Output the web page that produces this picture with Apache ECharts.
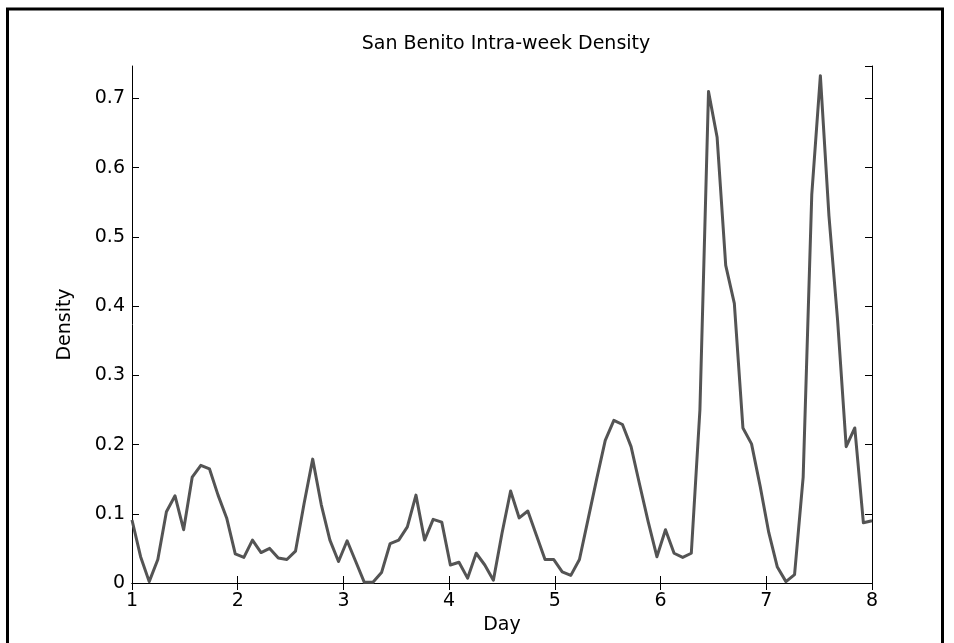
<!DOCTYPE html>
<html>
<head>
<meta charset="utf-8">
<script src="https://cdn.jsdelivr.net/npm/echarts@6/dist/echarts.min.js"></script>
<style>
  html, body { margin: 0; padding: 0; background: #fff; }
  #chart { width: 954px; height: 643px; }
</style>
</head>
<body>
<div id="chart"></div>
<script>
// ---- data ----
const titleText = 'San Benito Intra-week Density';
const xName = 'Day';
const yName = 'Density';
const dayStart = 1;
const dayEnd = 8;
const xTicks = [1, 2, 3, 4, 5, 6, 7, 8];
const yTicks = [0, 0.1, 0.2, 0.3, 0.4, 0.5, 0.6, 0.7];
const yMax = 0.747;
const density = [
  0.091, 0.038, 0.002, 0.034, 0.103, 0.126, 0.077, 0.153, 0.170, 0.165,
  0.127, 0.094, 0.042, 0.037, 0.062, 0.044, 0.050, 0.036, 0.034, 0.046,
  0.115, 0.179, 0.113, 0.062, 0.031, 0.061, 0.031, 0.001, 0.001, 0.015,
  0.057, 0.062, 0.081, 0.127, 0.062, 0.092, 0.088, 0.026, 0.030, 0.007,
  0.043, 0.026, 0.004, 0.072, 0.133, 0.094, 0.104, 0.069, 0.034, 0.034,
  0.016, 0.011, 0.034, 0.092, 0.150, 0.206, 0.235, 0.229, 0.197, 0.142,
  0.088, 0.038, 0.077, 0.043, 0.037, 0.043, 0.250, 0.710, 0.644, 0.459,
  0.404, 0.224, 0.201, 0.140, 0.073, 0.023, 0.002, 0.012, 0.153, 0.561,
  0.733, 0.530, 0.380, 0.197, 0.224, 0.087, 0.090
];

// evenly spaced evaluation grid over the week
const n = density.length;
const seriesData = density.map((v, i) => [dayStart + i * (dayEnd - dayStart) / (n - 1), v]);

const FONT = '"DejaVu Sans", "Liberation Sans", Arial, sans-serif';
const FS = 19;
const TXT = '#000';
const labelStyle = { fontFamily: FONT, fontSize: FS, color: TXT };

function isTick(list, v) {
  return list.some(t => Math.abs(t - v) < 1e-9);
}

const chart = echarts.init(document.getElementById('chart'), null, { renderer: 'canvas' });

const axisLineStyle = { lineStyle: { color: '#000', width: 1 } };
const tickStyle = { inside: true, length: 7, lineStyle: { color: '#000', width: 1 } };

chart.setOption({
  animation: false,
  backgroundColor: '#fff',
  title: {
    text: titleText,
    left: 501,
    textAlign: 'center',
    top: 30,
    textStyle: { fontFamily: FONT, fontSize: FS, fontWeight: 'normal', color: TXT }
  },
  grid: { left: 132, right: 82, top: 66, bottom: 60, containLabel: false },
  xAxis: [
    {
      type: 'value', position: 'bottom', min: dayStart, max: dayEnd, interval: 1,
      name: xName, nameLocation: 'middle', nameGap: 32,
      nameTextStyle: { fontFamily: FONT, fontSize: FS, color: TXT },
      axisLine: axisLineStyle, axisTick: tickStyle,
      axisLabel: Object.assign({ margin: 9, formatter: v => isTick(xTicks, v) ? String(v) : '' }, labelStyle),
      splitLine: { show: false }
    },
    {
      type: 'value', position: 'top', min: dayStart, max: dayEnd, interval: 1,
      axisLine: axisLineStyle, axisTick: tickStyle,
      axisLabel: { show: false }, splitLine: { show: false }
    }
  ],
  yAxis: [
    {
      type: 'value', position: 'left', min: 0, max: yMax, interval: 0.1,
      name: yName, nameLocation: 'middle', nameGap: 57, nameRotate: 90,
      nameTextStyle: { fontFamily: FONT, fontSize: FS, color: TXT },
      axisLine: Object.assign({ show: true }, axisLineStyle), axisTick: Object.assign({ show: true }, tickStyle),
      axisLabel: Object.assign({
        margin: 7, showMaxLabel: false,
        formatter: v => isTick(yTicks, v) ? (v === 0 ? '0' : v.toFixed(1)) : ''
      }, labelStyle),
      splitLine: { show: false }
    },
    {
      type: 'value', position: 'right', min: 0, max: yMax, interval: 0.1,
      axisLine: Object.assign({ show: true }, axisLineStyle), axisTick: Object.assign({ show: true }, tickStyle),
      axisLabel: { show: false }, splitLine: { show: false }
    }
  ],
  series: [
    {
      type: 'line',
      xAxisIndex: 0, yAxisIndex: 0,
      data: seriesData,
      showSymbol: false, symbol: 'none',
      clip: true,
      lineStyle: { color: '#545454', width: 3, join: 'round' }
    }
  ],
  graphic: [
    { type: 'line', silent: true, shape: { x1: 6, y1: 9, x2: 944, y2: 9 }, style: { stroke: '#000', lineWidth: 3 } },
    { type: 'line', silent: true, shape: { x1: 7.5, y1: 8, x2: 7.5, y2: 643 }, style: { stroke: '#000', lineWidth: 3 } },
    { type: 'line', silent: true, shape: { x1: 942.5, y1: 8, x2: 942.5, y2: 643 }, style: { stroke: '#000', lineWidth: 3 } }
  ]
});
</script>
</body>
</html>
